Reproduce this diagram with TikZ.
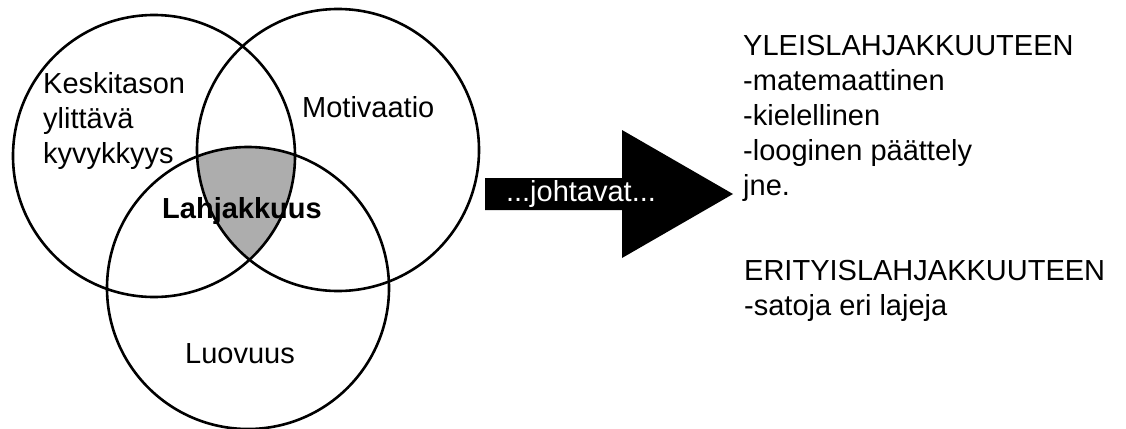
\documentclass[tikz,border=0pt]{standalone}
\usepackage{fontspec}
\setmainfont{Liberation Sans}
\usetikzlibrary{
    positioning,
    calc
}
\tikzset{
    venn/.style={
        draw,
        circle,
        line width=2.6pt,
        minimum size=282pt,
        inner sep=0pt
    },
    lab/.style={
        font=\fontsize{29}{35}\selectfont,
        align=left,
        inner sep=0pt
    },
    bigarrow/.style={
        fill=black
    }
}

\begin{document}
\begin{tikzpicture}[x=1pt, y=-1pt]

\useasboundingbox (0,0) rectangle (1126,428);

\coordinate (c1) at (154,156);
\coordinate (c2) at (338,150);
\coordinate (c3) at (248,288);

% yhteinen alue
\begin{scope}
    \clip (c1) circle[radius=141pt];
    \clip (c2) circle[radius=141pt];
    \fill[black!32] (c3) circle[radius=141pt];
\end{scope}

\node[venn] (kyky) at (c1) {};
\node[venn] (moti) at (c2) {};
\node[venn] (luov) at (c3) {};

% tekstit (base = viimeisen rivin perusviiva)
\node[lab, anchor=base west] (kyky-t) at (43,163) {Keskitason\\ylittävä\\kyvykkyys};
\node[lab, anchor=base west] (moti-t) at (302,117) {Motivaatio};
\node[lab, anchor=base west, font=\fontsize{29}{35}\selectfont\bfseries] (lahja) at (162,218) {Lahjakkuus};
\node[lab, anchor=base west] (luov-t) at (185,363) {Luovuus};

% nuoli
\coordinate (tail) at (485,194);
\coordinate (tip) at (733,194);
\fill[bigarrow] ($(tail)+(0,-16)$) -- ++(137,0) -- ++(0,-48) -- (tip)
    -- ($(tail)+(137,64)$) -- ++(0,-48) -- ($(tail)+(0,16)$) -- cycle;
\node[lab, text=white, anchor=base] (joht) at ($(tail)+(96,7)$) {...johtavat...};

\node[lab, anchor=base west] (yleis) at (743,195)
    {YLEISLAHJAKKUUTEEN\\-matemaattinen\\-kielellinen\\-looginen päättely\\jne.};
\node[lab, anchor=base west] (erit) at (744,315)
    {ERITYISLAHJAKKUUTEEN\\-satoja eri lajeja};

\end{tikzpicture}
\end{document}
